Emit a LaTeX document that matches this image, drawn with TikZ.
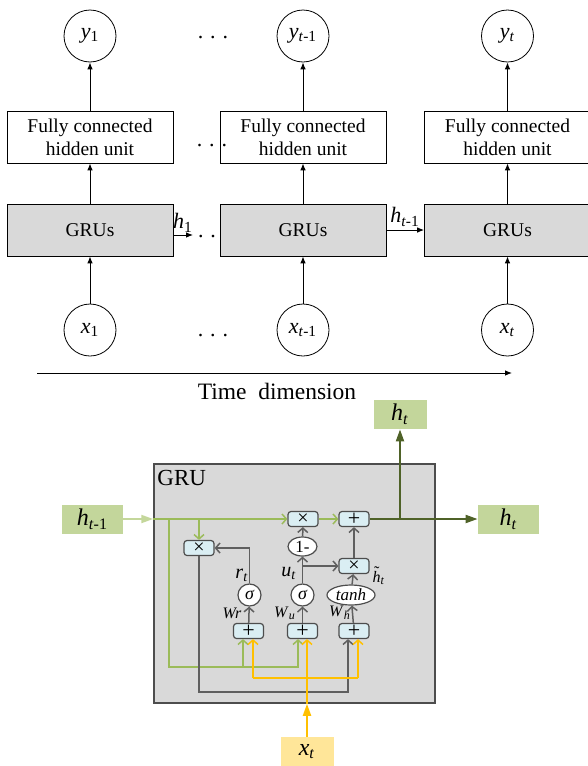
\documentclass[tikz,border=0pt]{standalone}
\usepackage{fontspec}
\setmainfont{Liberation Serif}
\usetikzlibrary{arrows.meta,shapes.geometric,positioning}

\definecolor{cellgray}{HTML}{D9D9D9}
\definecolor{edgegray}{HTML}{4D4D4D}
\definecolor{linegray}{HTML}{5F5F5F}
\definecolor{opblue}{HTML}{DAEEF3}
\definecolor{hgreen}{HTML}{C3D69B}
\definecolor{lgreen}{HTML}{9BBB59}
\definecolor{pgreen}{HTML}{C4D79B}
\definecolor{dgreen}{HTML}{4F6228}
\definecolor{xyellow}{HTML}{FFC000}
\definecolor{xfill}{HTML}{FFE699}

\newcommand{\vsym}[2]{\textit{#1}\textsubscript{#2}}
\newcommand{\htilde}{\ooalign{\textit{h}\cr\hidewidth\raisebox{0.3em}{\char"02DC}\hidewidth\cr}}

\begin{document}
\begin{tikzpicture}[x=0.5pt,y=-0.5pt,
  unit/.style={circle,draw,minimum size=26pt,inner sep=0pt,
               font=\fontsize{11}{13}\selectfont},
  fcbox/.style={draw,minimum width=83pt,minimum height=26pt,inner sep=0pt,
                align=center,font=\fontsize{9.75}{11.5}\selectfont},
  grubox/.style={fcbox,fill=cellgray},
  up/.style={-{Latex[length=3.5pt,width=2.8pt]},line width=0.5pt},
  opbox/.style={draw=edgegray,fill=opblue,rounded corners=1.5pt,line width=0.6pt,
                minimum width=15pt,minimum height=7.5pt,inner sep=0pt,
                font=\fontsize{10}{10}\selectfont},
  addbox/.style={opbox,font=\fontsize{11}{11}\selectfont},
  gate/.style={ellipse,draw=edgegray,fill=white,line width=0.6pt,inner sep=0pt,
               font=\fontsize{9}{9}\selectfont\itshape},
  hbox/.style={fill=hgreen,minimum width=30.5pt,minimum height=14.5pt,inner sep=0pt,
               font=\fontsize{12}{12}\selectfont},
  small/.style={inner sep=0pt,font=\fontsize{8}{8}\selectfont},
  flow/.style={draw=linegray,line width=0.75pt,-{Straight Barb[length=2.2pt,width=5pt]}},
  gflow/.style={flow,draw=lgreen},
  yflow/.style={flow,draw=xyellow},
  bigtip/.style={line width=1pt,-{Triangle[length=6pt,width=4pt]}},
  dots/.style={inner sep=0pt,font=\fontsize{11}{11}\selectfont}]

  \useasboundingbox (0,0) rectangle (588,766);

  % unrolled network
  \foreach \x/\n/\lab in {90/1/1,303/2/\textit{t}-1,507.5/3/\textit{t}} {
    \node [unit]   (y\n)   at (\x,36)  {\vsym{y}{\lab}};
    \node [fcbox]  (fc\n)  at (\x,137) {Fully connected\\hidden unit};
    \node [grubox] (gru\n) at (\x,230) {GRUs};
    \node [unit]   (x\n)   at (\x,330) {\vsym{x}{\lab}};
    \draw [up] (x\n) -- (gru\n);
    \draw [up] (gru\n) -- (fc\n);
    \draw [up] (fc\n) -- (y\n);
  }

  \node [dots] (dtop) at (213,38)  {.\hspace{3.5pt}.\hspace{3.5pt}.};
  \node [dots] (dfc)  at (212,146) {.\hspace{3.5pt}.\hspace{3.5pt}.};
  \node [dots] (dgru) at (207,237) {.\hspace{3.5pt}.};
  \node [dots] (dbot) at (213,336) {.\hspace{3.5pt}.\hspace{3.5pt}.};

  \coordinate (h1tip) at (193,235);
  \draw [up] ([yshift=-2.5pt]gru1.east) -- (h1tip);
  \node [font=\fontsize{11}{11}\selectfont,inner sep=0pt] (h1lab) at (183,223) {\vsym{h}{1}};
  \draw [up] (gru2) -- (gru3);
  \node [font=\fontsize{11}{11}\selectfont,inner sep=0pt] (hplab) at (405,217)
        {\vsym{h}{\textit{t}-1}};

  \coordinate (tstart) at (37,373);
  \coordinate (tend) at (512,373);
  \draw [up] (tstart) -- (tend);
  \node [font=\fontsize{11.75}{12}\selectfont,inner sep=0pt] (tlab) at (277,391)
        {Time\ \ dimension};

  % the GRU cell
  \node [draw=edgegray,fill=cellgray,line width=0.75pt,minimum width=140.5pt,
         minimum height=119.5pt,inner sep=0pt] (cell) at (294.5,583.5) {};
  \node [anchor=west,inner sep=0pt,font=\fontsize{11.5}{12}\selectfont] (celllab)
        at (157,478) {GRU};

  \node [opbox]  (mulR) at (199,548)   {×};
  \node [opbox]  (mulU) at (303,519)   {×};
  \node [addbox] (addO) at (354,519)   {+};
  \node [opbox]  (mulH) at (354,566)   {×};
  \node [gate,minimum width=14.5pt,minimum height=9.5pt,font=\fontsize{8.5}{9}\selectfont]
        (one) at (302.5,546.5) {1-};
  \node [gate,minimum width=11.5pt,minimum height=11pt] (sigR) at (249.5,595) {σ};
  \node [gate,minimum width=11.5pt,minimum height=11pt] (sigU) at (302.5,595) {σ};
  \node [gate,minimum width=24pt,minimum height=10pt,font=\fontsize{8.5}{9}\selectfont\itshape]
        (tanh) at (351,595) {tanh};
  \node [addbox] (addR) at (248.5,631) {+};
  \node [addbox] (addU) at (302.5,631) {+};
  \node [addbox] (addH) at (354,631)   {+};

  \node [font=\fontsize{10}{10}\selectfont,inner sep=0pt] (rlab) at (242,575) {\vsym{r}{\textit{t}}};
  \node [font=\fontsize{10}{10}\selectfont,inner sep=0pt] (ulab) at (289,573) {\vsym{u}{\textit{t}}};
  \node [small] (htlab) at (379,578) {\htilde\textsubscript{\textit{t}}};
  \node [small] (wrlab) at (232,613) {\textit{Wr}};
  \node [small] (wulab) at (285,613) {\vsym{W}{\textit{u}}};
  \node [small] (whlab) at (340,613) {\vsym{W}{\textit{h}}};

  \node [hbox] (hprev) at (92.5,519) {\vsym{h}{\textit{t}-1}};
  \node [hbox] (hout)  at (508.5,519) {\vsym{h}{\textit{t}}};
  \node [hbox,minimum width=26.5pt] (htop) at (400,414.5) {\vsym{h}{\textit{t}}};
  \node [fill=xfill,minimum width=26.5pt,minimum height=14.5pt,inner sep=0pt,
         font=\fontsize{12}{12}\selectfont] (xt) at (307,751.5) {\vsym{x}{\textit{t}}};

  % previous state and its branches
  \coordinate (gsplit) at (169,519);
  \coordinate (gbus)   at (169,667);
  \coordinate (gbusR)  at (243,667);
  \coordinate (rsplit) at (199,519);
  \draw [bigtip,draw=pgreen,fill=pgreen] (hprev.east) -- (hprev.east -| cell.west);
  \draw [gflow] (hprev.east -| cell.west) -- (mulU.west);
  \draw [gflow] (mulU.east) -- (addO.west);
  \draw [gflow] (gsplit) -- (gbus) -| ([xshift=-2.25pt]addU.south);
  \draw [gflow] (gbusR) -- (gbusR |- addR.south);
  \draw [gflow] (rsplit) -- (mulR.north);

  % gates
  \coordinate (usplit) at (302.5,566);
  \coordinate (rbus)   at (199,692);
  \draw [flow] (addR) -- (sigR);
  \draw [flow] (sigR.north) |- (mulR.east);
  \draw [flow] (addU) -- (sigU);
  \draw [flow] (sigU) -- (one);
  \draw [flow] (usplit) -- (mulH.west);
  \draw [flow] (one) -- (mulU);
  \draw [flow] (addH) -- (tanh);
  \draw [flow] (tanh) -- (mulH);
  \draw [flow] (mulH) -- (addO);
  \draw [flow] (mulR.south) -- (rbus) -| ([xshift=-3pt]addH.south);

  % input x_t
  \coordinate (ybusL) at (253,678);
  \coordinate (ybusR) at (358,678);
  \draw [bigtip,draw=xyellow,fill=xyellow] (xt.north) -- (xt.north |- cell.south);
  \draw [yflow] (xt.north |- cell.south) -- ([xshift=2.25pt]addU.south);
  \draw [draw=xyellow,line width=0.75pt] (ybusL) -- (ybusR);
  \draw [yflow] (ybusL) -- (ybusL |- addR.south);
  \draw [yflow] (ybusR) -- (ybusR |- addH.south);

  % new state
  \coordinate (osplit) at (400,519);
  \draw [bigtip,draw=dgreen,fill=dgreen] (addO.east) -- (hout.west);
  \draw [bigtip,draw=dgreen,fill=dgreen] (osplit) -- (htop.south);

\end{tikzpicture}
\end{document}
